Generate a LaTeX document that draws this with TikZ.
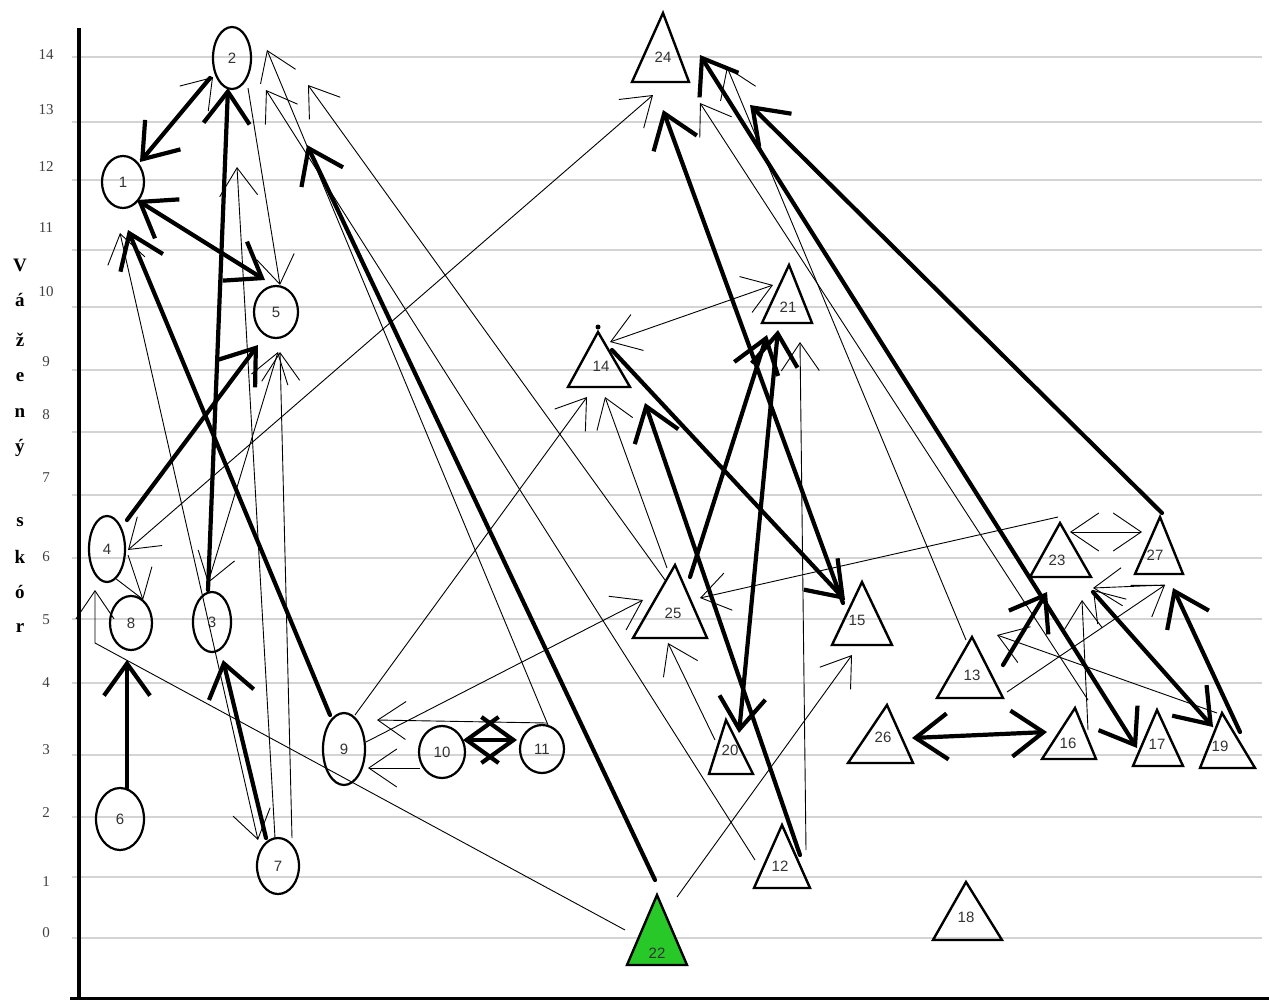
\documentclass[tikz,border=0pt]{standalone}
\usepackage{fontspec}
\setmainfont{Liberation Serif}
\newfontfamily\lblfont{Liberation Sans}
\usetikzlibrary{shapes.geometric,arrows.meta}
\definecolor{lgreen}{RGB}{40,200,40}
\tikzset{
  gridline/.style={draw=black!17, line width=1.5pt},
  circ/.style={ellipse, draw, line width=2.2pt, inner sep=0pt, font=\lblfont\fontsize{15}{15}\selectfont, text=black!80},
  tribox/.style={draw, line width=2.4pt, line join=miter},
  lbl/.style={inner sep=1pt, font=\lblfont\fontsize{15}{15}\selectfont, text=black!80},
  K/.style={line width=4.2pt, line cap=round, -{Straight Barb[length=32pt,width=46pt]}},
  KK/.style={line width=4.2pt, line cap=round, {Straight Barb[length=32pt,width=46pt]}-{Straight Barb[length=32pt,width=46pt]}},
  T/.style={line width=0.9pt, -{Straight Barb[length=28pt,width=38pt]}},
  TT/.style={line width=0.9pt, {Straight Barb[length=28pt,width=38pt]}-{Straight Barb[length=28pt,width=38pt]}},
  axisnum/.style={inner sep=0pt, font=\fontsize{15}{15}\selectfont, text=black!75},
  axistitle/.style={inner sep=0pt, font=\bfseries\fontsize{19}{19}\selectfont},
}
\newcommand{\tri}[9]{%
  \draw[tribox,#9] (#2,#3) -- (#6,#4) -- (#5,#4) -- cycle;
  \node[lbl] (t#1) at (#7,#8) {#1};}
\begin{document}
\begin{tikzpicture}[x=1pt,y=-1pt]
\useasboundingbox (0,0) rectangle (1269,1001);
\fill[white] (0,0) rectangle (1269,1001);
% grid
\foreach \y in {57,122,180,250,307,370,432,495,558,619,683,755,817,877,938}
  \draw[gridline] (72,\y) -- (1262,\y);
% axes
\draw[line width=3.5pt] (79,28) -- (79,1000);
\draw[line width=3pt] (70,998.5) -- (1269,998.5);
% axis numbers
\foreach \v/\y in {14/55,13/110,12/167,11/228,10/292,9/362,8/415,7/478,6/557,5/620,4/683,3/750,2/813,1/882,0/933}
  \node[axisnum] (ax\v) at (46,\y) {\v};
% axis title
\node[axistitle] (l1) at (20,265) {V};
\node[axistitle] (l2) at (20,300) {á};
\node[axistitle] (l3) at (20,340) {ž};
\node[axistitle] (l4) at (20,377) {e};
\node[axistitle] (l5) at (20,413) {n};
\node[axistitle] (l6) at (20,448) {ý};
\node[axistitle] (l7) at (20,522) {s};
\node[axistitle] (l8) at (20,557) {k};
\node[axistitle] (l9) at (20,592) {ó};
\node[axistitle] (l10) at (20,628) {r};
% circle nodes
\node[circ, minimum width=42pt, minimum height=52pt] (n1) at (123,182) {1};
\node[circ, minimum width=38pt, minimum height=62pt] (n2) at (232,58) {2};
\node[circ, minimum width=38pt, minimum height=60pt] (n3) at (212,622) {3};
\node[circ, minimum width=36pt, minimum height=66pt] (n4) at (107,549) {4};
\node[circ, minimum width=44pt, minimum height=52pt] (n5) at (276,312) {5};
\node[circ, minimum width=48pt, minimum height=62pt] (n6) at (120,819) {6};
\node[circ, minimum width=42pt, minimum height=56pt] (n7) at (278,866) {7};
\node[circ, minimum width=42pt, minimum height=54pt] (n8) at (131,623) {8};
\node[circ, minimum width=42pt, minimum height=72pt] (n9) at (344,749) {9};
\node[circ, minimum width=46pt, minimum height=52pt] (n10) at (442,752) {10};
\node[circ, minimum width=44pt, minimum height=48pt] (n11) at (542,749) {11};
% triangle nodes
\tri{22}{657}{895}{965}{627}{687}{657}{953}{fill=lgreen}
\tri{24}{663}{13}{82}{632}{689}{663}{57}{}
\tri{21}{789}{265}{323}{762}{812}{788}{307}{}
\tri{14}{598}{332}{387}{568}{630}{601}{366}{}
\tri{25}{675}{565}{638}{633}{707}{673}{613}{}
\tri{15}{862}{582}{645}{832}{892}{857}{620}{}
\tri{23}{1060}{523}{577}{1030}{1091}{1057}{560}{}
\tri{27}{1160}{517}{574}{1135}{1183}{1155}{555}{}
\tri{13}{972}{637}{698}{937}{1003}{972}{675}{}
\tri{26}{887}{705}{763}{848}{913}{883}{737}{}
\tri{16}{1075}{708}{759}{1042}{1096}{1068}{743}{}
\tri{17}{1157}{710}{766}{1133}{1183}{1157}{744}{}
\tri{19}{1222}{713}{768}{1200}{1255}{1220}{746}{}
\tri{18}{966}{882}{940}{933}{1002}{966}{917}{}
\tri{20}{726}{720}{774}{709}{753}{730}{750}{}
\tri{12}{782}{825}{888}{754}{810}{780}{866}{}
\fill (598,327) circle (2.5pt);
% thick connectors
\draw[K] ([shift={(-22,20)}]n2.center) -- ([shift={(17,-20)}]n1.center);
\draw[K] ([shift={(-4,-32)}]n3.center) -- ([shift={(-4,30)}]n2.center);
\draw[KK] ([shift={(-11,-32)}]n5.center) -- ([shift={(14,18)}]n1.center);
\draw[K] ([shift={(20,-29)}]n4.center) -- ([shift={(-18,33)}]n5.center);
\draw[K] ([shift={(-14,-34)}]n9.center) -- ([shift={(5,48)}]n1.center);
\draw[K] ([shift={(7,-31)}]n6.center) -- ([shift={(-4,37)}]n8.center);
\draw[K] ([shift={(-12,-28)}]n7.center) -- ([shift={(11,38)}]n3.center);
\draw[K] ([shift={(-2,-73)}]t22.center) -- ([shift={(75,87)}]n2.center);
\draw[KK] ([shift={(21,-12)}]n10.center) -- ([shift={(-25,-9)}]n11.center);
\draw[K] ([shift={(-14,-17)}]t15.center) -- ([shift={(0,53)}]t24.center);
\draw[K] ([shift={(20,-11)}]t12.center) -- ([shift={(44,37)}]t14.center);
\draw[K] ([shift={(11,-16)}]t14.center) -- ([shift={(-12,-20)}]t15.center);
\draw[K] ([shift={(17,-36)}]t25.center) -- ([shift={(-21,28)}]t21.center);
\draw[KK] ([shift={(9,-17)}]t20.center) -- ([shift={(-10,23)}]t21.center);
\draw[KK] ([shift={(-20,4)}]t17.center) -- ([shift={(37,-2)}]t24.center);
\draw[K] ([shift={(7,-42)}]t27.center) -- ([shift={(87,48)}]t24.center);
\draw[K] ([shift={(31,-10)}]t13.center) -- ([shift={(-10,32)}]t23.center);
\draw[K] ([shift={(36,32)}]t23.center) -- ([shift={(-7,-19)}]t19.center);
\draw[K] ([shift={(20,-14)}]t19.center) -- ([shift={(18,33)}]t27.center);
\draw[KK] ([shift={(29,1)}]t26.center) -- ([shift={(-21,-11)}]t16.center);
% thin connectors
\draw[T] ([shift={(6,-24)}]n11.center) -- ([shift={(35,-8)}]n2.center);
\draw[T] ([shift={(-25,-6)}]t12.center) -- ([shift={(34,32)}]n2.center);
\draw[T] ([shift={(-8,-33)}]t25.center) -- ([shift={(76,27)}]n2.center);
\draw[T] ([shift={(17,-22)}]n1.center) -- ([shift={(-19,19)}]n2.center);
\draw[T] ([shift={(16,30)}]n2.center) -- ([shift={(4,-27)}]n5.center);
\coordinate (c7) at (237,167);
\draw[T] ([shift={(-3,-28)}]n7.center) -- (c7);
\draw[TT] ([shift={(-4,-39)}]n3.center) -- ([shift={(2,40)}]n5.center);
\draw[T] ([shift={(14,-28)}]n7.center) -- ([shift={(4,40)}]n5.center);
\draw[TT] ([shift={(-20,-26)}]n7.center) -- ([shift={(-3,51)}]n1.center);
\draw[TT] ([shift={(21,1)}]n4.center) -- ([shift={(-10,38)}]t24.center);
\draw[T] ([shift={(21,6)}]n4.center) -- ([shift={(12,-23)}]n8.center);
\coordinate (b1) at (95,643);
\coordinate (b2) at (95,590);
\draw[T] ([shift={(-32,-23)}]t22.center) -- (b1) -- (b2);
\draw[T] ([shift={(11,-34)}]n9.center) -- ([shift={(-14,31)}]t14.center);
\draw[T] ([shift={(22,-7)}]n9.center) -- ([shift={(-30,-13)}]t25.center);
\draw[T] ([shift={(5,-26)}]n11.center) -- ([shift={(33,-29)}]n9.center);
\draw[T] ([shift={(-22,16)}]n10.center) -- ([shift={(24,19)}]n9.center);
\draw[T] ([shift={(20,-56)}]t22.center) -- ([shift={(-5,35)}]t15.center);
\draw[T] ([shift={(-15,-10)}]t20.center) -- ([shift={(-5,30)}]t25.center);
\draw[T] ([shift={(26,-16)}]t12.center) -- ([shift={(12,35)}]t21.center);
\draw[T] ([shift={(-6,-45)}]t25.center) -- ([shift={(4,31)}]t14.center);
\draw[TT] ([shift={(9,-24)}]t14.center) -- ([shift={(-15,-22)}]t21.center);
\draw[T] ([shift={(20,-43)}]t16.center) -- ([shift={(37,46)}]t24.center);
\draw[T] ([shift={(-6,-35)}]t13.center) -- ([shift={(64,10)}]t24.center);
\draw[T] ([shift={(1,-43)}]t23.center) -- ([shift={(27,-15)}]t25.center);
\draw[TT] ([shift={(13,-28)}]t23.center) -- ([shift={(-13,-23)}]t27.center);
\draw[T] ([shift={(35,17)}]t13.center) -- ([shift={(10,30)}]t27.center);
\draw[T] ([shift={(-3,-33)}]t19.center) -- ([shift={(25,-40)}]t13.center);
\draw[T] ([shift={(20,-13)}]t16.center) -- ([shift={(25,40)}]t23.center);
\draw[T] ([shift={(10,30)}]t27.center) -- ([shift={(36,28)}]t23.center);
\draw[T] ([shift={(-7,-19)}]t19.center) -- ([shift={(36,30)}]t23.center);
\end{tikzpicture}
\end{document}
